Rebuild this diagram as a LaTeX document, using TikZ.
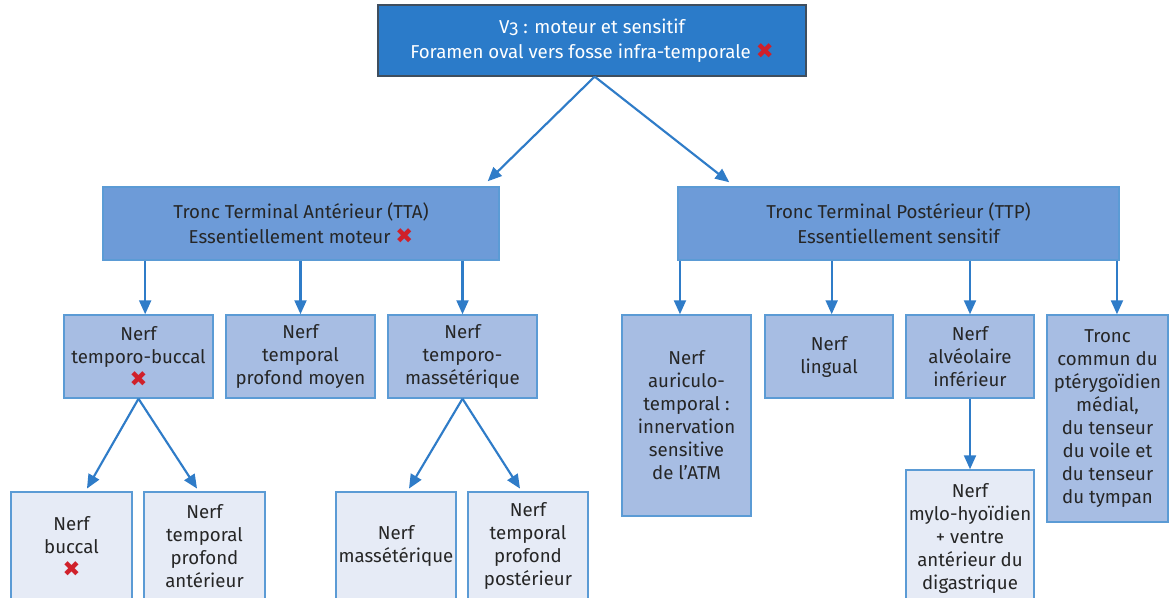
\documentclass[tikz,border=0pt]{standalone}
\usepackage{fontspec}
\setmainfont{Fira Sans}[Numbers=OldStyle]
\newfontfamily\symfont{DejaVu Sans}
\usetikzlibrary{arrows.meta}
\definecolor{topfill}{HTML}{2B7BC9}
\definecolor{topline}{HTML}{3F4E5E}
\definecolor{lafill}{HTML}{6D9BD8}
\definecolor{lbfill}{HTML}{A7BDE3}
\definecolor{lcfill}{HTML}{E6EBF6}
\definecolor{boxline}{HTML}{5B9BD5}
\definecolor{arrcol}{HTML}{2F7CC8}
\definecolor{txt}{HTML}{262626}
\definecolor{xred}{HTML}{D0202A}
\newcommand{\redx}{{\symfont\fontsize{16}{16}\selectfont\color{xred}\char"2716}}
\tikzset{
  basebox/.style={draw=boxline, line width=1.1pt, inner sep=0pt, align=center, text=txt,
    font=\fontsize{14}{17.25}\selectfont},
  topbox/.style={basebox, fill=topfill, draw=topline, line width=0.9pt, text=white,
    font=\fontsize{14}{18.75}\selectfont},
  abox/.style={basebox, fill=lafill, font=\fontsize{14}{18.75}\selectfont},
  bbox/.style={basebox, fill=lbfill},
  cbox/.style={basebox, fill=lcfill},
  arr/.style={draw=arrcol, line width=1.6pt, -{Triangle[length=10.5pt,width=9pt]}, arrcol},
}
\begin{document}
\begin{tikzpicture}[x=0.75pt,y=-0.75pt]
\clip (0,0) rectangle (1170,598);
\fill[white] (0,0) rectangle (1170,598);
% level 0
\node[topbox, minimum width=321pt, minimum height=53.25pt] (v3) at (592,40.5)
  {V3 : moteur et sensitif\\Foramen oval vers fosse infra-temporale \redx};
% level 1
\node[abox, minimum width=297pt, minimum height=54.75pt] (tta) at (301,223.5)
  {Tronc Terminal Antérieur (TTA)\\Essentiellement moteur \redx};
\node[abox, minimum width=330.75pt, minimum height=54.75pt] (ttp) at (898.5,223.5)
  {Tronc Terminal Postérieur (TTP)\\Essentiellement sensitif};
% level 2
\node[bbox, minimum width=111.75pt, minimum height=62.25pt] (tb) at (138.5,356.5) {Nerf\\temporo-buccal\\\redx};
\node[bbox, minimum width=111.75pt, minimum height=62.25pt] (tpm) at (300.5,356.5) {Nerf\\temporal\\profond moyen};
\node[bbox, minimum width=111.75pt, minimum height=62.25pt] (tm) at (462.5,356.5) {Nerf\\temporo-\\massétérique};
\node[bbox, minimum width=96.75pt, minimum height=150.75pt] (at) at (686.5,415.5) {Nerf\\auriculo-\\temporal :\\innervation\\sensitive\\de l'ATM};
\node[bbox, minimum width=96pt, minimum height=62.25pt] (li) at (829,356.5) {Nerf\\lingual};
\node[bbox, minimum width=96pt, minimum height=62.25pt] (ai) at (970,356.5) {Nerf\\alvéolaire\\inférieur};
\node[bbox, minimum width=90.75pt, minimum height=155.25pt] (tc) at (1107.5,418.5) {Tronc\\commun du\\ptérygoïdien\\médial,\\du tenseur\\du voile et\\du tenseur\\du tympan};
% level 3
\node[cbox, minimum width=90.75pt, minimum height=81pt] (bu) at (71.5,546) {Nerf\\buccal\\\redx};
\node[cbox, minimum width=90.75pt, minimum height=81pt] (tpa) at (204.5,546) {Nerf\\temporal\\profond\\antérieur};
\node[cbox, minimum width=90pt, minimum height=81pt] (ma) at (396,546) {Nerf\\massétérique};
\node[cbox, minimum width=90pt, minimum height=81pt] (tpp) at (528,546) {Nerf\\temporal\\profond\\postérieur};
\node[cbox, minimum width=96pt, minimum height=102pt] (my) at (970,538) {Nerf\\mylo-hyoïdien\\+ ventre\\antérieur du\\digastrique};
% connectors
\coordinate (tl) at ([xshift=-9pt,yshift=3.75pt]tta.north east);
\coordinate (tr) at ([xshift=39pt,yshift=3pt]ttp.north west);
\draw[arr] ([xshift=2pt]v3.south) -- (tl);
\draw[arr] ([xshift=2pt]v3.south) -- (tr);
\coordinate (tbin) at ([xshift=5pt]tb.north);
\draw[arr] (tbin |- tta.south) -- (tbin);
\draw[arr] (tpm.north |- tta.south) -- (tpm.north);
\draw[arr] (tm.north |- tta.south) -- (tm.north);
\coordinate (atin) at ([xshift=-4.9pt]at.north);
\draw[arr] (atin |- ttp.south) -- (atin);
\coordinate (liin) at ([xshift=2pt]li.north);
\draw[arr] (liin |- ttp.south) -- (liin);
\draw[arr] (ai.north |- ttp.south) -- (ai.north);
\coordinate (tcin) at ([xshift=7.1pt]tc.north);
\draw[arr] (tcin |- ttp.south) -- (tcin);
\draw[arr] (tb.south) -- ([xshift=11.6pt,yshift=2pt]bu.north);
\draw[arr] (tb.south) -- ([xshift=-5.6pt,yshift=2pt]tpa.north);
\draw[arr] (tm.south) -- ([xshift=9.75pt,yshift=2pt]ma.north);
\draw[arr] (tm.south) -- ([xshift=-6pt,yshift=2pt]tpp.north);
\draw[arr] (ai.south) -- (my.north);
\end{tikzpicture}
\end{document}
